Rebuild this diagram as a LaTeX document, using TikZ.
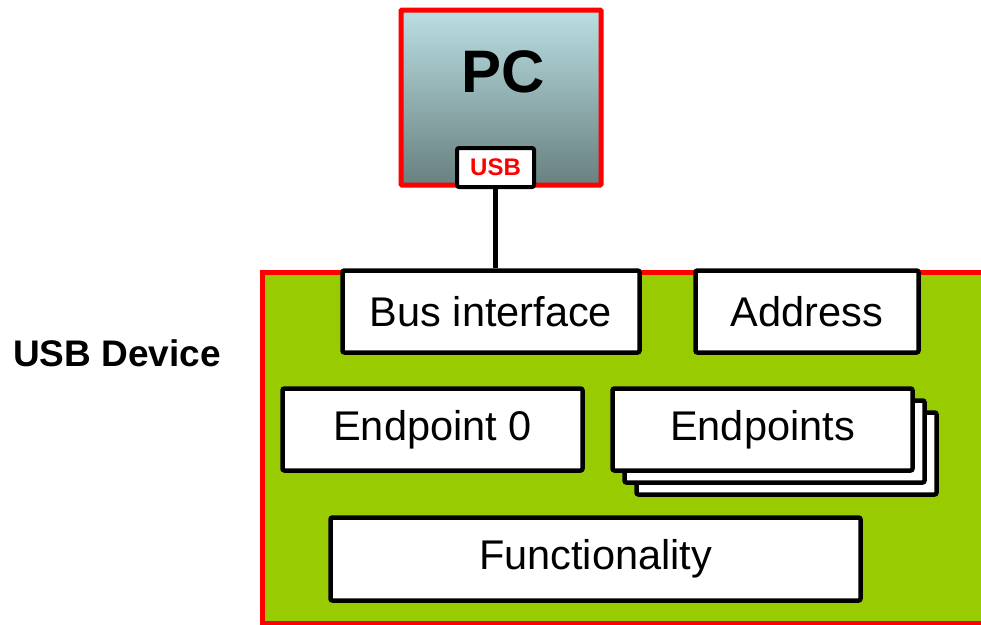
\documentclass[tikz,border=0pt]{standalone}
\usepackage{fontspec}
\setmainfont{Liberation Sans}
\definecolor{usbgreen}{RGB}{153,204,0}
\definecolor{usbred}{RGB}{255,0,0}
\definecolor{pctop}{RGB}{187,223,226}
\definecolor{pcbot}{RGB}{104,128,128}
\tikzset{
  wbox/.style={draw=black, fill=white, line width=4.5pt, rounded corners=2pt,
    inner sep=0pt, font=\fontsize{41.5}{48}\selectfont},
}
\begin{document}
\begin{tikzpicture}[x=1pt,y=-1pt]
\useasboundingbox (0,0) rectangle (981,624);
\begin{scope}
\clip (0,0) rectangle (981,624);
% device area
\node[draw=usbred, fill=usbgreen, line width=4.5pt, minimum width=740pt, minimum height=351pt, inner sep=0pt, anchor=north west] (dev) at (260,270) {};
% PC
\node[draw=usbred, line width=5pt, top color=pctop, bottom color=pcbot, minimum width=200pt, minimum height=175pt, inner sep=0pt, rounded corners=1pt] (pc) at (501,97.5) {};
\node[font=\fontsize{60}{72}\selectfont\bfseries, inner sep=0pt] (pclabel) at (503,72) {PC};
\node[draw=black, fill=white, line width=4pt, rounded corners=2pt, minimum width=77pt, minimum height=39pt, inner sep=0pt, text=usbred, font=\fontsize{24}{28}\selectfont\bfseries] (usb) at (495.5,167.5) {USB};
% device boxes
\node[wbox, minimum width=297pt, minimum height=82pt] (bus) at (491,311.5) {Bus interface};
\node[wbox, minimum width=223pt, minimum height=82pt] (addr) at (807,311.5) {Address};
\node[wbox, minimum width=300pt, minimum height=82pt] (ep0) at (432.5,429.5) {Endpoint 0};
\node[wbox, minimum width=300pt, minimum height=82pt] (eps3) at (786.5,453.5) {};
\node[wbox, minimum width=300pt, minimum height=82pt] (eps2) at (774.5,441.5) {};
\node[wbox, minimum width=300pt, minimum height=82pt] (eps) at (762.5,429.5) {Endpoints};
\node[wbox, minimum width=530pt, minimum height=83pt] (func) at (595.5,559) {Functionality};
% connector
\draw[line width=4.5pt] (usb.south) -- (usb.south |- bus.north);
% label
\node[font=\fontsize{37}{44}\selectfont\bfseries, inner sep=0pt] (devlabel) at (117,353) {USB Device};
\end{scope}
\end{tikzpicture}
\end{document}
